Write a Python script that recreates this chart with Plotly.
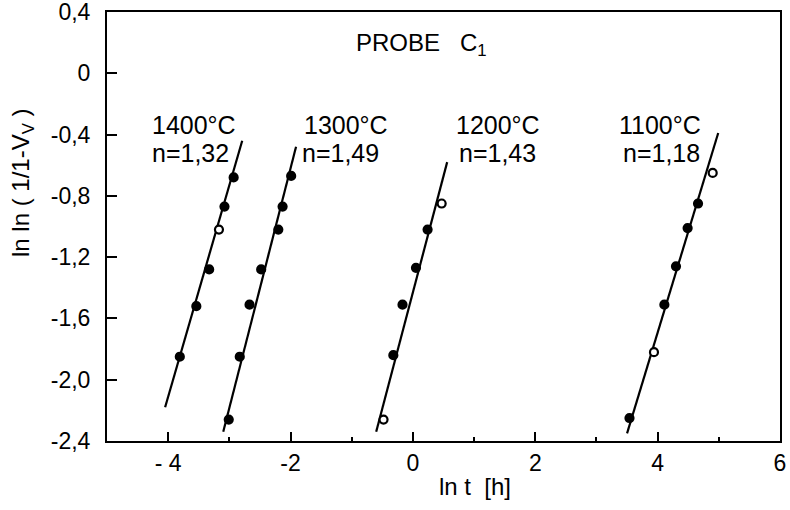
import plotly.graph_objects as go

# ---- data ----
x_1400 = [-3.81, -3.54, -3.33, -3.17, -3.08, -2.93]
y_1400 = [-1.85, -1.52, -1.28, -1.02, -0.87, -0.68]
fitx_1400 = [-4.05, -2.79]
fity_1400 = [-2.18, -0.44]
open_1400 = [3]

x_1300 = [-3.01, -2.83, -2.67, -2.48, -2.20, -2.13, -1.99]
y_1300 = [-2.26, -1.85, -1.51, -1.28, -1.02, -0.87, -0.67]
fitx_1300 = [-3.10, -1.91]
fity_1300 = [-2.34, -0.48]
open_1300 = []

x_1200 = [-0.48, -0.32, -0.17, 0.05, 0.24, 0.47]
y_1200 = [-2.26, -1.84, -1.51, -1.27, -1.02, -0.85]
fitx_1200 = [-0.60, 0.56]
fity_1200 = [-2.34, -0.58]
open_1200 = [0, 5]

x_1100 = [3.54, 3.94, 4.11, 4.30, 4.49, 4.66, 4.90]
y_1100 = [-2.25, -1.82, -1.51, -1.26, -1.01, -0.85, -0.65]
fitx_1100 = [3.50, 4.99]
fity_1100 = [-2.35, -0.39]
open_1100 = [1, 6]

temps = ["1400°C", "1300°C", "1200°C", "1100°C"]
n_labels = ["n=1,32", "n=1,49", "n=1,43", "n=1,18"]

x_tickvals = [-4, -2, 0, 2, 4, 6]
x_ticktext = ["- 4", "-2", "0", "2", "4", "6"]
x_minor = [-3, -1, 1, 3, 5]
y_tickvals = [-2.4, -2.0, -1.6, -1.2, -0.8, -0.4, 0, 0.4]
y_ticktext = ["-2,4", "-2,0", "-1,6", "-1,2", "-0,8", "-0,4", "0", "0,4"]

series = [
    (x_1400, y_1400, fitx_1400, fity_1400, open_1400),
    (x_1300, y_1300, fitx_1300, fity_1300, open_1300),
    (x_1200, y_1200, fitx_1200, fity_1200, open_1200),
    (x_1100, y_1100, fitx_1100, fity_1100, open_1100),
]

FONT = "Liberation Sans"
fig = go.Figure()
for xs, ys, fx, fy, op in series:
    fig.add_trace(go.Scatter(x=fx, y=fy, mode="lines",
                             line=dict(color="black", width=2.2), showlegend=False))
    fill_col = ["white" if i in op else "black" for i in range(len(xs))]
    fig.add_trace(go.Scatter(x=xs, y=ys, mode="markers", showlegend=False,
                             marker=dict(size=8, color=fill_col, symbol="circle",
                                         line=dict(color="black", width=2.2))))

# labels
lx = [-4.30, -1.805, 0.673, 3.33]
lx_n = [-4.30, -1.85, 0.722, 3.396]
for t, nl, a, b in zip(temps, n_labels, lx, lx_n):
    fig.add_annotation(x=a, y=-0.34, xref="x", yref="y", text=t, showarrow=False,
                       xanchor="left", yanchor="middle", font=dict(size=25, family=FONT, color="black"))
    fig.add_annotation(x=b, y=-0.52, xref="x", yref="y", text=nl, showarrow=False,
                       xanchor="left", yanchor="middle", font=dict(size=25, family=FONT, color="black"))

fig.add_annotation(x=-0.96, y=0.19, xref="x", yref="y", text="PROBE   C<sub>1</sub>",
                   showarrow=False, xanchor="left", yanchor="middle",
                   font=dict(size=24, family=FONT, color="black"))

W, H = 790, 510
ml, mr, mt, mb = 107, 10, 12, 69
pw, ph = W - ml - mr, H - mt - mb

def px2paper(px, py):
    return (px - ml) / pw, 1 - (py - mt) / ph

ax_x, ax_y = px2paper(475, 487)
fig.add_annotation(x=ax_x, y=ax_y, xref="paper", yref="paper", text="ln t  [h]",
                   showarrow=False, xanchor="center", yanchor="middle",
                   font=dict(size=24, family=FONT, color="black"))
ay_x, ay_y = px2paper(23, 183)
fig.add_annotation(x=ay_x, y=ay_y, xref="paper", yref="paper", text="ln ln ( 1/1-V<sub>V</sub> )",
                   showarrow=False, textangle=-90, xanchor="center", yanchor="middle",
                   font=dict(size=24, family=FONT, color="black"))

fig.update_layout(
    width=W, height=H,
    margin=dict(l=ml, r=mr, t=mt, b=mb, autoexpand=False),
    paper_bgcolor="white", plot_bgcolor="white",
    font=dict(family=FONT, color="black", size=23),
    xaxis=dict(range=[-5, 6], showgrid=False, zeroline=False, showline=True,
               linecolor="black", linewidth=2, mirror=True, automargin=False,
               ticks="inside", ticklen=9, tickwidth=1.5, tickcolor="black",
               tickvals=x_tickvals, ticktext=x_ticktext, ticklabeloverflow="allow",
               tickfont=dict(size=23, family=FONT, color="black"),
               minor=dict(tickvals=x_minor, ticks="inside", ticklen=4, tickwidth=1.5,
                          tickcolor="black", showgrid=False)),
    yaxis=dict(range=[-2.4, 0.4], showgrid=False, zeroline=False, showline=True,
               linecolor="black", linewidth=2, mirror=True, automargin=False,
               ticks="inside", ticklen=10, tickwidth=1.5, tickcolor="black",
               tickvals=y_tickvals, ticktext=y_ticktext, ticklabeloverflow="allow",
               ticklabelstandoff=10,
               tickfont=dict(size=23, family=FONT, color="black")),
)

fig.write_html("out.html")
